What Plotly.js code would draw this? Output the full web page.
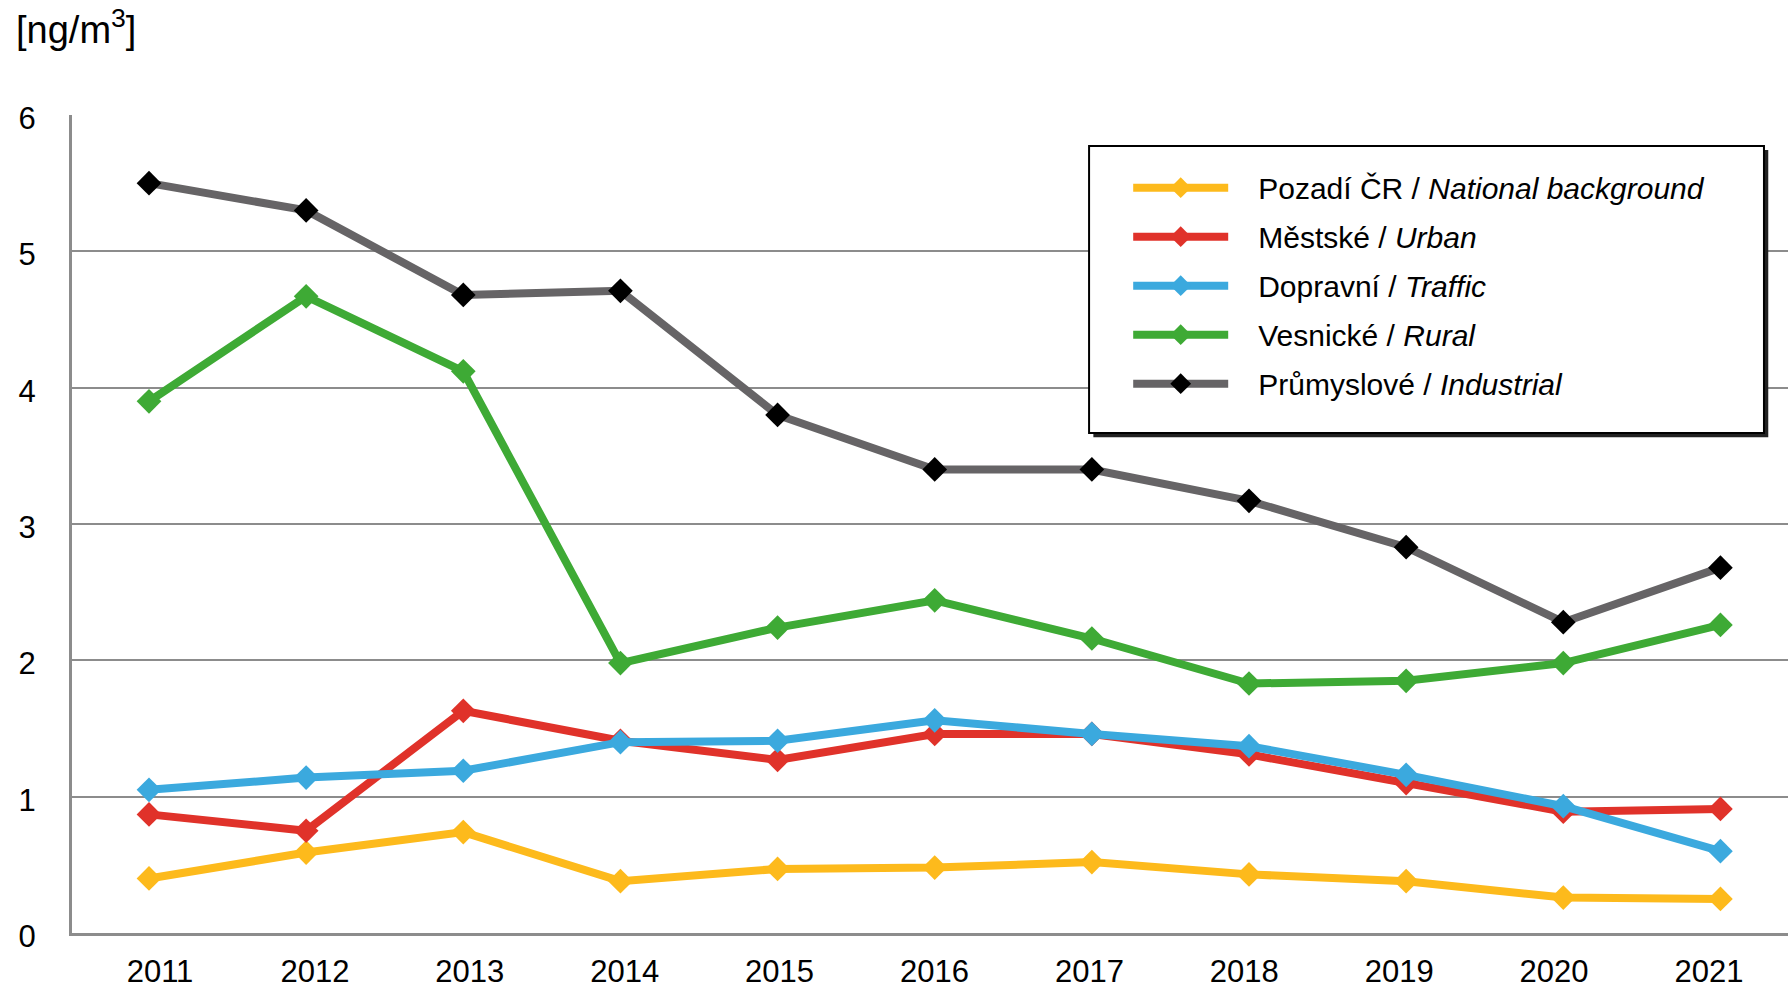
<!DOCTYPE html>
<html>
<head>
<meta charset="utf-8">
<script src="https://cdn.plot.ly/plotly-3.0.1.min.js"></script>
<style>
  html, body { margin: 0; padding: 0; background: #ffffff; }
  #chart { width: 1788px; height: 988px; }
</style>
</head>
<body>
<div id="chart"></div>
<script>
// ---- data ----
const years = [2011, 2012, 2013, 2014, 2015, 2016, 2017, 2018, 2019, 2020, 2021];
const background = [0.40, 0.59, 0.74, 0.38, 0.47, 0.48, 0.52, 0.43, 0.38, 0.26, 0.25];
const urban      = [0.87, 0.75, 1.63, 1.41, 1.27, 1.46, 1.46, 1.31, 1.10, 0.89, 0.91];
const traffic    = [1.05, 1.14, 1.19, 1.40, 1.41, 1.56, 1.46, 1.37, 1.16, 0.93, 0.60];
const rural      = [3.90, 4.67, 4.12, 1.98, 2.24, 2.44, 2.16, 1.83, 1.85, 1.98, 2.26];
const industrial = [5.50, 5.30, 4.68, 4.71, 3.80, 3.40, 3.40, 3.17, 2.83, 2.28, 2.68];

const seriesNames = [
  'Pozadí ČR / <i>National background</i>',
  'Městské / <i>Urban</i>',
  'Dopravní / <i>Traffic</i>',
  'Vesnické / <i>Rural</i>',
  'Průmyslové / <i>Industrial</i>'
];
const yTickVals = [0, 1, 2, 3, 4, 5, 6];
const unitLabel = '[ng/m<sup>3</sup>]';

// ---- styles ----
const lineColors   = ['#FDBA1C', '#E0322A', '#3BA9DE', '#3EAA35', '#666466'];
const markerColors = ['#FDBA1C', '#E0322A', '#3BA9DE', '#3EAA35', '#000000'];
const seriesData = [background, urban, traffic, rural, industrial];
const FONT = 'Liberation Sans, Arial, sans-serif';
const GAP = '\u00a0\u00a0\u00a0';

const traces = seriesData.map((vals, i) => ({
  type: 'scatter',
  mode: 'lines+markers',
  x: years,
  y: vals,
  name: GAP + seriesNames[i],
  legendgroup: 'g' + i,
  line: { color: lineColors[i], width: 8 },
  marker: { symbol: 'diamond', size: 19, color: markerColors[i] },
  hoverinfo: 'x+y'
}));

// invisible helper trace so the label axis (x2) is drawn
traces.push({
  type: 'scatter', mode: 'markers', x: years, y: years.map(() => null),
  xaxis: 'x2', yaxis: 'y', showlegend: false, hoverinfo: 'skip',
  marker: { opacity: 0 }
});

// legend box (drawn as shapes, paper coords)
const bx0 = 0.5927, bx1 = 0.986, by0 = 0.6112, by1 = 0.9621;
const sdx = 0.0025, sdy = 0.005;

const layout = {
  width: 1788,
  height: 988,
  margin: { l: 72, r: 0, t: 115, b: 55 },
  paper_bgcolor: '#ffffff',
  plot_bgcolor: '#ffffff',
  font: { family: FONT, size: 31, color: '#000000' },
  showlegend: true,
  xaxis: {
    type: 'linear',
    range: [2010.51, 2021.43],
    tickvals: years,
    showticklabels: false,
    showgrid: false,
    zeroline: false,
    showline: true,
    linecolor: '#8c8c8c',
    linewidth: 3,
    ticks: '',
    fixedrange: true
  },
  xaxis2: {
    type: 'linear',
    overlaying: 'x',
    anchor: 'y',
    side: 'bottom',
    range: [2010.432, 2021.51],
    tickvals: years,
    ticktext: years.map(String),
    showgrid: false,
    zeroline: false,
    showline: false,
    ticks: 'outside',
    ticklen: 11,
    tickcolor: 'rgba(0,0,0,0)',
    tickfont: { family: FONT, size: 31, color: '#000000' },
    fixedrange: true
  },
  yaxis: {
    range: [0, 6],
    tickvals: yTickVals,
    showgrid: true,
    gridcolor: '#8c8c8c',
    gridwidth: 2,
    zeroline: false,
    showline: true,
    linecolor: '#8c8c8c',
    linewidth: 3,
    ticks: 'outside',
    ticklen: 27,
    tickcolor: 'rgba(0,0,0,0)',
    ticklabelshift: 3,
    tickfont: { family: FONT, size: 31, color: '#000000' },
    fixedrange: true
  },
  legend: {
    x: 0.6155,
    xanchor: 'left',
    y: 0.943,
    yanchor: 'top',
    bgcolor: 'rgba(0,0,0,0)',
    borderwidth: 0,
    traceorder: 'grouped',
    tracegroupgap: 7,
    itemwidth: 95,
    font: { family: FONT, size: 30, color: '#000000' }
  },
  shapes: [
    { type: 'rect', xref: 'paper', yref: 'paper', layer: 'above',
      x0: bx0 + sdx, x1: bx1 + sdx, y0: by0 - sdy, y1: by1 - sdy,
      fillcolor: '#222222', line: { width: 0 } },
    { type: 'rect', xref: 'paper', yref: 'paper', layer: 'above',
      x0: bx0, x1: bx1, y0: by0, y1: by1,
      fillcolor: '#ffffff', line: { color: '#000000', width: 2 } }
  ],
  annotations: [
    { text: unitLabel, xref: 'paper', yref: 'paper', x: -0.034, y: 1.0,
      xanchor: 'left', yanchor: 'bottom', yshift: 62, showarrow: false,
      font: { family: FONT, size: 38, color: '#000000' } }
  ]
};

Plotly.newPlot('chart', traces, layout, { displayModeBar: false, staticPlot: true });
</script>
</body>
</html>
